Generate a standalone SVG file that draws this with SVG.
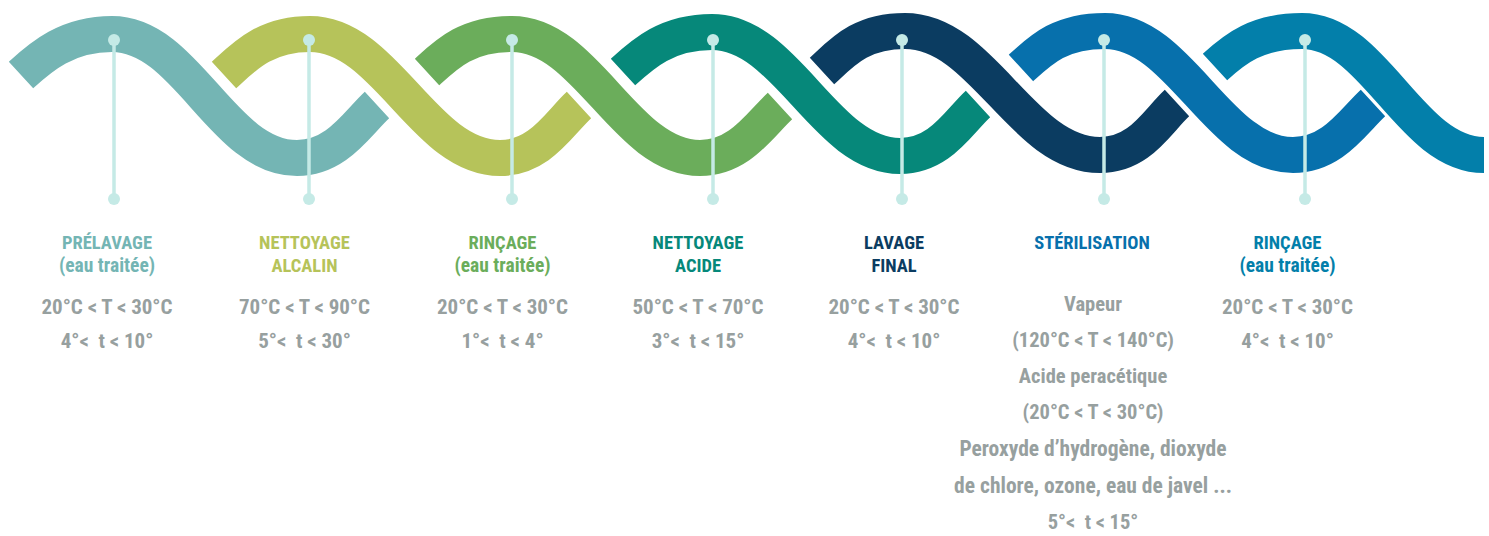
<svg xmlns="http://www.w3.org/2000/svg" width="1489" height="536" viewBox="0 0 1489 536">
<style>
.band{fill:none;stroke-width:36;stroke-linecap:butt}
.stem{stroke:#C5EAE6;stroke-width:3.5}
.dot{fill:#C5EAE6}
text{font-family:"Liberation Sans Narrow","Roboto Condensed","DejaVu Sans Condensed",sans-serif;font-weight:bold;text-anchor:middle}
.h{font-size:18.5px}
.h2{font-size:19.5px}
.v{font-size:21px;fill:#97A09F}
.s{font-size:20.5px;fill:#97A09F}
.w{font-size:21.5px;fill:#97A09F}
</style>
<rect width="1489" height="536" fill="#FFFFFF"/>
<g id="bands">
<path id="band1" class="band" stroke="#74B5B4" d="M21,75 C41,56.6 67,34 112,34 C187,34 222,158 297,158 C337,158 357,123.4 377,105"/>
<path id="band2" class="band" stroke="#B6C35A" d="M224,75 C244,56.6 265,34 310,34 C386,34 424,158 500,158 C540,158 559,123.4 579,105"/>
<path id="band3" class="band" stroke="#6BAD5B" d="M427,72 C447,53.6 467,34 512,34 C587,34 625,158 700,158 C740,158 760,124.4 780,106"/>
<path id="band4" class="band" stroke="#06887A" d="M623,72 C643,53.6 667,32 712,32 C787,32 825,156 900,156 C940,156 958,122.4 978,104"/>
<path id="band5" class="band" stroke="#0B3C61" d="M822,71 C842,52.6 860,31 905,31 C983,31 1022,155 1100,155 C1140,155 1157,121.4 1177,103"/>
<path id="band6" class="band" stroke="#0770AC" d="M1021,68 C1041,49.6 1060,31 1105,31 C1180,31 1218,155 1293,155 C1333,155 1353,121.4 1373,103"/>
<path id="band7" class="band" stroke="#037FAA" d="M1215,67 C1235,48.6 1257,31 1302,31 C1375,31 1410,155 1484,155"/>
</g>
<g id="connectors">
<line class="stem" x1="114" y1="40" x2="114" y2="199"/>
<line class="stem" x1="309" y1="40" x2="309" y2="199"/>
<line class="stem" x1="512" y1="40" x2="512" y2="199"/>
<line class="stem" x1="713" y1="40" x2="713" y2="199"/>
<line class="stem" x1="902" y1="40" x2="902" y2="199"/>
<line class="stem" x1="1104" y1="40" x2="1104" y2="199"/>
<line class="stem" x1="1305" y1="40" x2="1305" y2="199"/>
<circle class="dot" cx="114" cy="40" r="6"/><circle class="dot" cx="114" cy="199" r="6"/>
<circle class="dot" cx="309" cy="40" r="6"/><circle class="dot" cx="309" cy="199" r="6"/>
<circle class="dot" cx="512" cy="40" r="6"/><circle class="dot" cx="512" cy="199" r="6"/>
<circle class="dot" cx="713" cy="40" r="6"/><circle class="dot" cx="713" cy="199" r="6"/>
<circle class="dot" cx="902" cy="40" r="6"/><circle class="dot" cx="902" cy="199" r="6"/>
<circle class="dot" cx="1104" cy="40" r="6"/><circle class="dot" cx="1104" cy="199" r="6"/>
<circle class="dot" cx="1305" cy="40" r="6"/><circle class="dot" cx="1305" cy="199" r="6"/>
</g>
<g id="step1">
<text class="h" x="107" y="249" fill="#74B5B4">PRÉLAVAGE</text>
<text class="h2" x="107" y="272" fill="#74B5B4">(eau traitée)</text>
<text class="v" x="107" y="314">20°C &lt; T &lt; 30°C</text>
<text class="v" x="107" y="348">4°&lt;&#160; t &lt; 10°</text>
</g>
<g id="step2">
<text class="h" x="304.5" y="249" fill="#B6C35A">NETTOYAGE</text>
<text class="h" x="304.5" y="272" fill="#B6C35A">ALCALIN</text>
<text class="v" x="304.5" y="314">70°C &lt; T &lt; 90°C</text>
<text class="v" x="304.5" y="348">5°&lt;&#160; t &lt; 30°</text>
</g>
<g id="step3">
<text class="h" x="502.5" y="249" fill="#6BAD5B">RINÇAGE</text>
<text class="h2" x="502.5" y="272" fill="#6BAD5B">(eau traitée)</text>
<text class="v" x="502.5" y="314">20°C &lt; T &lt; 30°C</text>
<text class="v" x="502.5" y="348">1°&lt;&#160; t &lt; 4°</text>
</g>
<g id="step4">
<text class="h" x="698" y="249" fill="#06887A">NETTOYAGE</text>
<text class="h" x="698" y="272" fill="#06887A">ACIDE</text>
<text class="v" x="698" y="314">50°C &lt; T &lt; 70°C</text>
<text class="v" x="698" y="348">3°&lt;&#160; t &lt; 15°</text>
</g>
<g id="step5">
<text class="h" x="894" y="249" fill="#0B3C61">LAVAGE</text>
<text class="h" x="894" y="272" fill="#0B3C61">FINAL</text>
<text class="v" x="894" y="314">20°C &lt; T &lt; 30°C</text>
<text class="v" x="894" y="348">4°&lt;&#160; t &lt; 10°</text>
</g>
<g id="step6">
<text class="h" x="1092" y="249" fill="#0770AC">STÉRILISATION</text>
<text class="s" x="1093" y="311">Vapeur</text>
<text class="s" x="1093" y="347">(120°C &lt; T &lt; 140°C)</text>
<text class="s" x="1093" y="383">Acide peracétique</text>
<text class="s" x="1093" y="419">(20°C &lt; T &lt; 30°C)</text>
<text class="w" x="1093" y="456">Peroxyde d’hydrogène, dioxyde</text>
<text class="w" x="1093" y="493">de chlore, ozone, eau de javel ...</text>
<text class="s" x="1093" y="529">5°&lt;&#160; t &lt; 15°</text>
</g>
<g id="step7">
<text class="h" x="1287.5" y="249" fill="#037FAA">RINÇAGE</text>
<text class="h2" x="1287.5" y="272" fill="#037FAA">(eau traitée)</text>
<text class="v" x="1287.5" y="314">20°C &lt; T &lt; 30°C</text>
<text class="v" x="1287.5" y="348">4°&lt;&#160; t &lt; 10°</text>
</g>
</svg>
